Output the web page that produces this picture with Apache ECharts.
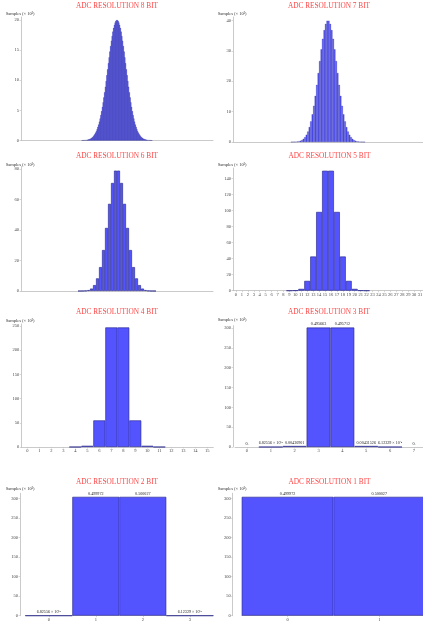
<!DOCTYPE html>
<html><head><meta charset="utf-8">
<script src="https://cdn.jsdelivr.net/npm/echarts@6.0.0/dist/echarts.min.js"></script>
<style>html,body{margin:0;padding:0;background:#fff}#c{width:423px;height:623px}</style>
</head><body><div id="c"></div><script>
const titles = ['ADC RESOLUTION 8 BIT','ADC RESOLUTION 7 BIT','ADC RESOLUTION 6 BIT','ADC RESOLUTION 5 BIT',
  'ADC RESOLUTION 4 BIT','ADC RESOLUTION 3 BIT','ADC RESOLUTION 2 BIT','ADC RESOLUTION 1 BIT'];
const yTitle = 'Samples (× 10³)';

const counts8 = [
0,0,0,0,0,0,0,0,0,0, 0,0,0,0,0,0,0,0,0,0, 0,0,0,0,0,0,0,0,0,0, 0,0,0,0,0,0,0,0,0,0,
0,0,0,0,0,0,0,0,0,0, 0,0,0,0,0,0,0,0,0,0, 0,0,0,0,0,0,0,0,0,0, 0,0,0,0,0,0,0,0,0,0, 0,
0.01,0.015,0.02,0.03,0.045,0.06,0.08,0.11,0.14,0.18,0.23,0.29,0.37,0.46,0.58,0.71,0.88,1.08,1.31,1.58,
1.89,2.25,2.66,3.13,3.65,4.23,4.87,5.58,6.34,7.15,8.01,8.92,9.87,10.84,11.83,12.83,13.81,14.77,15.69,16.56,
17.35,18.07,18.68,19.19,19.58,19.85,19.98,
19.98,19.85,19.58,19.19,18.68,18.07,17.35,
16.56,15.69,14.77,13.81,12.83,11.83,10.84,9.87,8.92,8.01,7.15,6.34,5.58,4.87,4.23,3.65,3.13,2.66,2.25,1.89,
1.58,1.31,1.08,0.88,0.71,0.58,0.46,0.37,0.29,0.23,0.18,0.14,0.11,0.08,0.06,0.045,0.03,0.02,0.015,0.01,
0,0,0,0,0,0,0,0,0,0, 0,0,0,0,0,0,0,0,0,0, 0,0,0,0,0,0,0,0,0,0, 0,0,0,0,0,0,0,0,0,0,
0,0,0,0,0,0,0,0,0,0, 0,0,0,0,0,0,0,0,0,0, 0,0,0,0,0,0,0,0,0,0, 0,0,0,0,0,0,0,0,0,0, 0
];
const counts7 = [
0,0,0,0,0,0,0,0,0,0, 0,0,0,0,0,0,0,0,0,0, 0,0,0,0,0,0,0,0,0,0, 0,0,0,0,0,0,0,0,0,
0.01,0.02,0.04,0.08,0.14,0.24,0.40,0.65,1.03,1.58,2.37,3.46,4.90,6.76,9.09,11.90,15.15,18.78,22.67,26.64,30.47,33.93,36.78,38.81,39.87,
39.87,38.81,36.78,33.93,30.47,26.64,22.67,18.78,15.15,11.90,9.09,6.76,4.90,3.46,2.37,1.58,1.03,0.65,0.40,0.24,0.14,0.08,0.04,0.02,0.01,
0,0,0,0,0,0,0,0,0,0, 0,0,0,0,0,0,0,0,0,0, 0,0,0,0,0,0,0,0,0,0, 0,0,0,0,0,0,0,0,0
];
const counts6 = [
0,0,0,0,0,0,0,0,0,0, 0,0,0,0,0,0,0,0,0,
0.02,0.06,0.2,0.6,1.6,3.9,8.3,15.7,26.9,41.4,57.2,70.9,79.0,
79.0,70.9,57.2,41.4,26.9,15.7,8.3,3.9,1.6,0.6,0.2,0.06,0.02,
0,0,0,0,0,0,0,0,0,0, 0,0,0,0,0,0,0,0,0
];
const counts5 = [
0,0,0,0,0,0,0,0,0,
0.03,0.29,2.3,12.3,42.8,98.5,150,
150,98.5,42.8,12.3,2.3,0.29,0.03,
0,0,0,0,0,0,0,0,0
];
const counts4 = [0,0,0,0,0.025,2.6,55,247,247,55,2.6,0.025,0,0,0,0];
const counts3 = [0,0.00004,2.62,301.4,301.4,2.62,0.00004,0];
const counts2 = [0.00004,304.0,304.0,0.00004];
const counts1 = [304.0,304.0];

const labels5 = ['0','1','2','3','4','5','6','7','8','9','10','11','12','13','14','15','16','17','18','19','20','21','22','23','24','25','26','27','28','29','30','31'];
const labels4 = ['0','1','2','3','4','5','6','7','8','9','10','11','12','13','14','15'];
const labels3 = ['0','1','2','3','4','5','6','7'];
const labels2 = ['0','1','2','3'];
const labels1 = ['0','1'];

const barText3 = ['0.','6.82556 × 10⁻⁸','0.00430901','0.495663','0.495712','0.00431526','6.12329 × 10⁻⁸','0.'];
const barText2 = ['6.82556 × 10⁻⁸','0.499972','0.500027','6.12329 × 10⁻⁸'];
const barText1 = ['0.499972','0.500027'];

const yMax  = [20.5, 41.1, 81.7, 153.4, 254, 306, 313, 313];
const yStep = [5, 10, 20, 20, 50, 50, 50, 50];

const panels = [
  {data: counts8, cats: null,    text: null},
  {data: counts7, cats: null,    text: null},
  {data: counts6, cats: null,    text: null},
  {data: counts5, cats: labels5, text: null},
  {data: counts4, cats: labels4, text: null},
  {data: counts3, cats: labels3, text: barText3},
  {data: counts2, cats: labels2, text: barText2},
  {data: counts1, cats: labels1, text: barText1}
];
const layout = [
  {left:21,    top:17,    width:192,   height:123.5, off:0},
  {left:233,   top:17,    width:190,   height:125,   off:0},
  {left:21,    top:166.5, width:192,   height:124.5, off:0},
  {left:233,   top:168,   width:190,   height:122.7, off:0},
  {left:21.3,  top:324,   width:192,   height:123,   off:0},
  {left:235,   top:325.7, width:190.9, height:121.3, off:2},
  {left:25.3,  top:493.3, width:188,   height:122.4, off:5.3},
  {left:241.7, top:493.3, width:183.4, height:122.4, off:9}
];
const titlePos = [[117,6],[329,6],[117,156],[329.5,156],[117,312.3],[329,312],[117,482.3],[329.5,482]];
const samplesPos = [[5.7,13.7],[217.7,13.7],[5.7,164.7],[217.7,164.7],[5.7,320.7],[217.7,320.3],[5.7,489.3],[217.7,489.3]];

const FONT = 'Liberation Serif';
const axisGray = '#bdbdbd';

const option = {
  animation: false,
  backgroundColor: '#fff',
  grid: layout.map(g => ({left:g.left, top:g.top, width:g.width, height:g.height, containLabel:false, outerBoundsMode:'none'})),
  xAxis: panels.map((p,i) => ({
    gridIndex: i, type: 'category',
    data: p.cats ? p.cats : p.data.map((_,k) => String(k)),
    boundaryGap: true,
    axisLine: {show:true, onZero:false, lineStyle:{color:axisGray, width:0.8}},
    axisTick: {show: !!p.cats, alignWithLabel:true, length:1.5, lineStyle:{color:axisGray, width:0.6}},
    axisLabel: {show: !!p.cats, interval:0, fontSize:4.5, fontFamily:FONT, color:'#444', margin:1.5},
    splitLine: {show:false}
  })),
  yAxis: panels.map((p,i) => ({
    gridIndex: i, type: 'value', min: 0, max: yMax[i], interval: yStep[i], offset: layout[i].off,
    splitLine: {show:false},
    axisLine: {show:true, lineStyle:{color:axisGray, width:0.8}},
    axisTick: {show:true, length:1.5, lineStyle:{color:axisGray, width:0.6}},
    axisLabel: {fontSize:4.5, fontFamily:FONT, color:'#444', margin:2, showMaxLabel:false}
  })),
  series: panels.map((p,i) => ({
    type: 'bar', xAxisIndex: i, yAxisIndex: i,
    barCategoryGap: '0%', barGap: '0%',
    silent: true,
    data: p.data.map(v => v === 0 ? {value: v, itemStyle:{color:'rgba(0,0,0,0)', borderWidth:0}} : v),
    itemStyle: {color:'#5454ff', borderColor:'rgba(38,38,140,0.9)', borderWidth: i < 2 ? 0.3 : 0.7},
    label: p.text ? {show:true, position:'top', distance:1.3, fontSize:4.1, fontFamily:FONT, color:'#222',
      formatter: prm => p.text[prm.dataIndex]} : {show:false}
  })),
  graphic: [
    ...titles.map((t,i) => ({type:'text', x:titlePos[i][0], y:titlePos[i][1], silent:true,
      style:{text:t, fill:'#ff4646', fontSize:7.3, fontFamily:FONT, align:'center', verticalAlign:'middle'}})),
    ...samplesPos.map(pos => ({type:'text', x:pos[0], y:pos[1], silent:true,
      style:{text:yTitle, fill:'#333', fontSize:4.5, fontFamily:FONT, align:'left', verticalAlign:'middle'}}))
  ]
};
const chart = echarts.init(document.getElementById('c'), null, {renderer:'canvas'});
chart.setOption(option);
</script></body></html>
